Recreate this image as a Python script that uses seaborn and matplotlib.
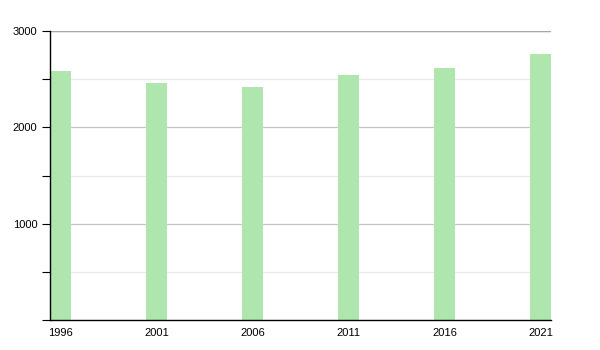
import matplotlib
matplotlib.use("Agg")
import matplotlib.pyplot as plt
import seaborn as sns
import pandas as pd
from matplotlib.ticker import MultipleLocator

years = ["1996", "2001", "2006", "2011", "2016", "2021"]
population = [2585, 2463, 2416, 2546, 2616, 2761]

sns.set_theme(style="white")
plt.rcParams['font.family'] = ['Liberation Sans', 'DejaVu Sans']

df = pd.DataFrame({"year": years, "population": population})

fig = plt.figure(figsize=(6, 3.5), dpi=100)
ax = fig.add_axes([50/600, 30/350, 501/600, 289/350])

sns.barplot(data=df, x="year", y="population", color="#aee6ae", saturation=1,
            width=0.22, ax=ax, zorder=3, edgecolor="none")

ax.set_xlim(-0.11, 5.11)
ax.set_ylim(0, 3000)
ax.yaxis.set_major_locator(MultipleLocator(1000))
ax.yaxis.set_minor_locator(MultipleLocator(500))
ax.set_yticks([1000, 2000, 3000])
ax.grid(axis="y", which="major", color="#c4c4c4", linewidth=0.9, zorder=0)
ax.grid(axis="y", which="minor", color="#e8e8e8", linewidth=0.9, zorder=0)
ax.axhline(3000, color="#a8a8a8", linewidth=1.0, zorder=1)

for s in ["top", "right"]:
    ax.spines[s].set_visible(False)
for s in ["left", "bottom"]:
    ax.spines[s].set_visible(True)
    ax.spines[s].set_color("black")
    ax.spines[s].set_linewidth(1.0)
    ax.spines[s].set_zorder(4)

ax.tick_params(axis="y", which="both", left=True, length=6, width=0.8,
               color="black", labelsize=8, pad=3, labelcolor="black")
ax.tick_params(axis="x", bottom=False, labelsize=8, pad=0, labelcolor="black")
ax.set_xlabel("")
ax.set_ylabel("")

fig.savefig("out.png", dpi=100)
